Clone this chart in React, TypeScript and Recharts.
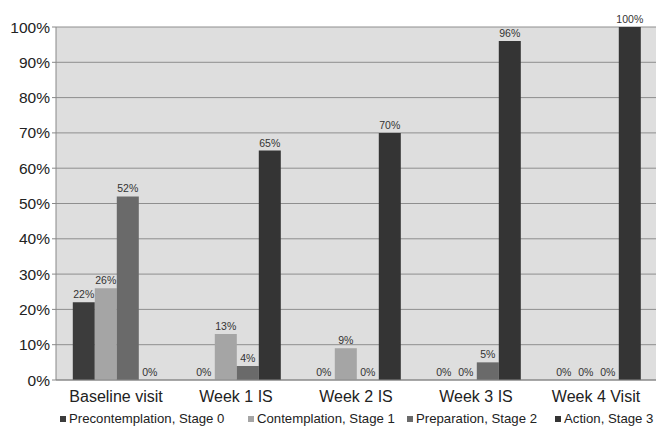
import { Bar, BarChart, CartesianGrid, LabelList, Legend, XAxis, YAxis } from "recharts";

const VISITS = ["Baseline visit", "Week 1 IS", "Week 2 IS", "Week 3 IS", "Week 4 Visit"];
const STAGE0 = [22, 0, 0, 0, 0];
const STAGE1 = [26, 13, 9, 0, 0];
const STAGE2 = [52, 4, 0, 5, 0];
const STAGE3 = [0, 65, 70, 96, 100];
const Y_TICKS = [0, 10, 20, 30, 40, 50, 60, 70, 80, 90, 100];

const SERIES = [
  { key: "s0", name: "Precontemplation, Stage 0", values: STAGE0, color: "#3c3c3c" },
  { key: "s1", name: "Contemplation, Stage 1", values: STAGE1, color: "#a5a5a5" },
  { key: "s2", name: "Preparation, Stage 2", values: STAGE2, color: "#6a6a6a" },
  { key: "s3", name: "Action, Stage 3", values: STAGE3, color: "#343434" },
];

// left edge of each legend entry, in pixels
const LEGEND_X = [60, 248, 407, 555];

const rows = VISITS.map((visit, i) => {
  const row: Record<string, string | number> = { visit };
  for (const s of SERIES) row[s.key] = s.values[i];
  return row;
});

const FONT = "'Liberation Sans', Arial, sans-serif";
const pct = (v: unknown) => `${v}%`;

function LegendRow() {
  return (
    <div style={{ position: "relative", width: 656, height: 19, fontSize: 13.2, fontFamily: FONT, color: "#222" }}>
      {SERIES.map((s, i) => (
        <span
          key={s.key}
          style={{
            position: "absolute",
            left: LEGEND_X[i],
            top: 3,
            display: "flex",
            alignItems: "center",
            whiteSpace: "nowrap",
            lineHeight: "16px",
          }}
        >
          <span style={{ width: 6, height: 6, background: s.color, display: "inline-block", marginRight: 3 }} />
          {s.name}
        </span>
      ))}
    </div>
  );
}

// zero-valued bars have no height, so draw their labels from the scale ourselves
function ZeroAwareLabel(props: any) {
  const { x, y, width, height, value } = props;
  if (x == null || y == null) return null;
  const top = height < 0 ? y + height : y;
  return (
    <text x={x + width / 2} y={top - 4} textAnchor="middle" fontSize={10.5} fill="#333" fontFamily={FONT}>
      {`${value}%`}
    </text>
  );
}

export default function App() {
  return (
    <div style={{ position: "absolute", left: 0, top: 0, background: "#fff", fontFamily: FONT }}>
      <BarChart
        width={656}
        height={427}
        data={rows}
        margin={{ top: 27, right: 0, bottom: 0, left: 0 }}
        barCategoryGap="14%"
        barGap={0}
      >
        <CartesianGrid fill="#dedede" stroke="#8e8e8e" vertical={false} />
        <XAxis
          dataKey="visit"
          height={28}
          tickLine={false}
          axisLine={{ stroke: "#888" }}
          tick={{ fill: "#222", fontSize: 16, fontFamily: FONT }}
          tickMargin={5}
        />
        <YAxis
          width={56}
          domain={[0, 100]}
          ticks={Y_TICKS}
          tickFormatter={pct}
          interval={0}
          axisLine={{ stroke: "#888" }}
          tickLine={{ stroke: "#888" }}
          tickSize={4}
          tickMargin={2}
          tick={{ fill: "#222", fontSize: 15.5, fontFamily: FONT }}
        />
        <Legend height={19} content={() => <LegendRow />} wrapperStyle={{ left: 0, bottom: 0, width: 656 }} />
        {SERIES.map((s) => (
          <Bar key={s.key} dataKey={s.key} name={s.name} fill={s.color} minPointSize={0.01} isAnimationActive={false}>
            <LabelList dataKey={s.key} content={ZeroAwareLabel} />
          </Bar>
        ))}
      </BarChart>
    </div>
  );
}
